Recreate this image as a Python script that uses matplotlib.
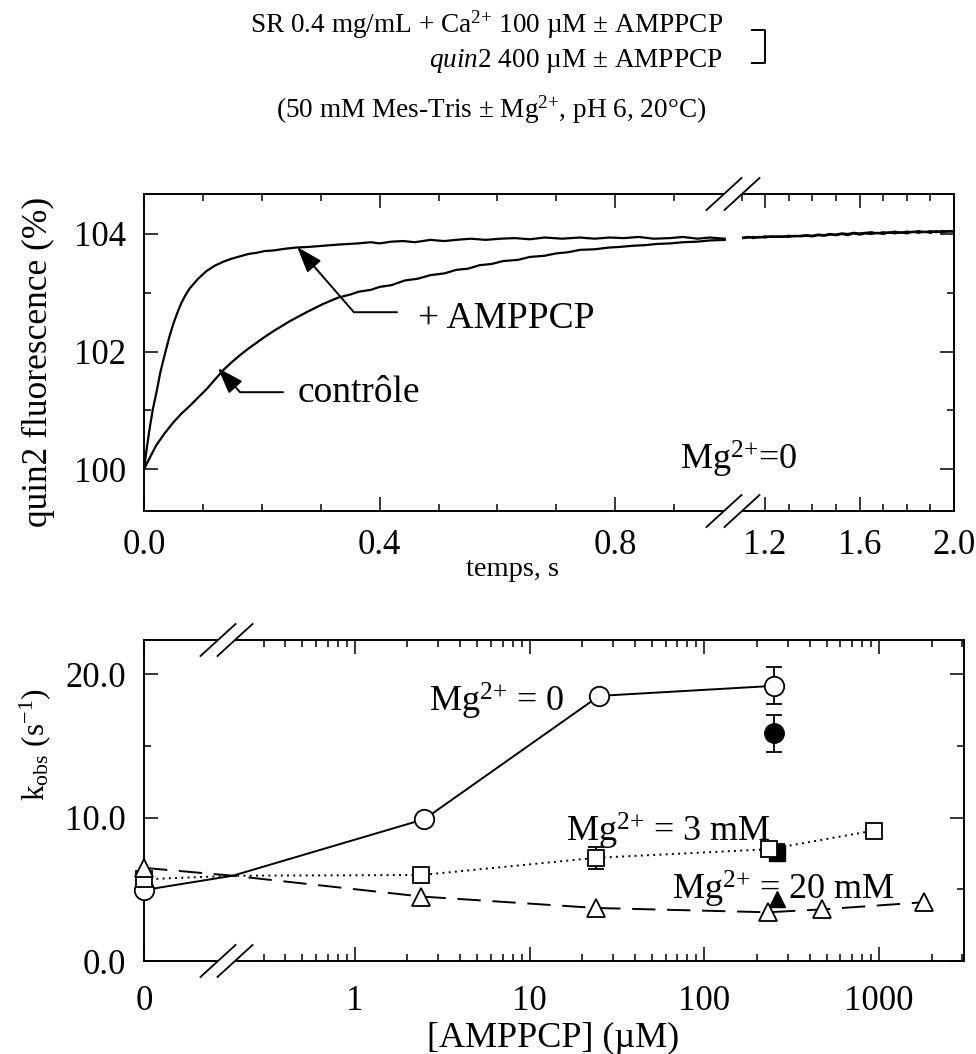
import numpy as np
import matplotlib
matplotlib.use("Agg")
import matplotlib.pyplot as plt
from matplotlib.ticker import FixedLocator, MultipleLocator, FuncFormatter
from matplotlib.lines import Line2D
from matplotlib.patches import Polygon

# --- top panel: quin2 fluorescence traces ---
amp_t = [0, 0.005, 0.010, 0.015, 0.021, 0.028, 0.036, 0.043, 0.050, 0.057,
         0.064, 0.071, 0.078, 0.092, 0.106, 0.120, 0.135, 0.149, 0.163, 0.177,
         0.191, 0.205, 0.220, 0.240, 0.259, 0.280, 0.304, 0.330, 0.363, 0.385,
         0.400, 0.420, 0.440, 0.460, 0.486, 0.510, 0.530, 0.555, 0.580, 0.605,
         0.630, 0.655, 0.680, 0.710, 0.740, 0.765, 0.790, 0.815, 0.840, 0.865,
         0.893, 0.915, 0.940, 0.960, 0.986]
amp_v = [100.00, 100.38, 100.72, 101.02, 101.30, 101.66, 101.98, 102.25, 102.48, 102.67,
         102.84, 102.97, 103.08, 103.24, 103.37, 103.46, 103.53, 103.58, 103.62, 103.66,
         103.68, 103.71, 103.72, 103.75, 103.77, 103.78, 103.80, 103.82, 103.84, 103.86,
         103.84, 103.87, 103.88, 103.86, 103.90, 103.88, 103.90, 103.92, 103.90, 103.92,
         103.93, 103.91, 103.94, 103.92, 103.94, 103.92, 103.94, 103.93, 103.95, 103.92,
         103.93, 103.95, 103.92, 103.94, 103.92]

ctl_t = [0, 0.005, 0.010, 0.021, 0.035, 0.050, 0.064, 0.078, 0.092, 0.106,
         0.120, 0.135, 0.149, 0.163, 0.177, 0.191, 0.205, 0.220, 0.248, 0.276,
         0.304, 0.330, 0.350, 0.365, 0.385, 0.400, 0.420, 0.443, 0.465, 0.486,
         0.510, 0.530, 0.550, 0.570, 0.590, 0.610, 0.635, 0.655, 0.680, 0.700,
         0.720, 0.740, 0.765, 0.790, 0.808, 0.830, 0.850, 0.870, 0.893, 0.915,
         0.940, 0.960, 0.986]
ctl_v = [100.00, 100.10, 100.20, 100.41, 100.61, 100.80, 100.95, 101.08, 101.22, 101.36,
         101.52, 101.69, 101.82, 101.94, 102.05, 102.15, 102.25, 102.35, 102.52, 102.67,
         102.81, 102.92, 102.97, 103.02, 103.05, 103.10, 103.13, 103.21, 103.24, 103.30,
         103.33, 103.39, 103.41, 103.47, 103.49, 103.54, 103.56, 103.61, 103.63, 103.67,
         103.69, 103.73, 103.74, 103.77, 103.78, 103.80, 103.81, 103.83, 103.84, 103.86,
         103.87, 103.89, 103.90]

late_t = [1.107, 1.130, 1.150, 1.175, 1.200, 1.225, 1.250, 1.275, 1.300, 1.325,
          1.350, 1.375, 1.400, 1.425, 1.450, 1.475, 1.500, 1.525, 1.550, 1.575,
          1.600, 1.625, 1.650, 1.675, 1.700, 1.725, 1.750, 1.775, 1.800, 1.825,
          1.850, 1.875, 1.900, 1.925, 1.950, 1.975, 2.000]
late_amp = [103.94, 103.95, 103.93, 103.95, 103.94, 103.96, 103.95, 103.96, 103.95, 103.97,
            103.96, 103.97, 103.96, 103.98, 103.97, 103.99, 103.98, 104.00, 103.98, 104.01,
            103.99, 104.01, 104.00, 104.02, 104.00, 104.03, 104.01, 104.03, 104.01, 104.04,
            104.02, 104.04, 104.02, 104.05, 104.03, 104.05, 104.04]
late_ctl = [103.93, 103.94, 103.95, 103.94, 103.96, 103.95, 103.96, 103.95, 103.97, 103.96,
            103.97, 103.98, 103.97, 103.99, 103.98, 104.00, 103.99, 104.01, 104.00, 104.02,
            104.01, 104.02, 104.03, 104.01, 104.03, 104.02, 104.04, 104.02, 104.04, 104.03,
            104.05, 104.03, 104.05, 104.03, 104.05, 104.04, 104.05]

# --- bottom panel: k_obs vs [AMPPCP] (0.2 = junction point at the axis break) ---
mg0_x = [0, 0.2, 2.5, 25, 250]
mg0_y = [4.95, 5.95, 9.9, 18.5, 19.2]
mg0_err = 1.3
mg0_fill_x, mg0_fill_y, mg0_fill_err = 250, 15.9, 1.3

mg3_x = [0, 0.2, 2.4, 24, 235, 930]
mg3_y = [5.7, 5.95, 6.0, 7.2, 7.8, 9.1]
mg3_err_x, mg3_err = 24, 0.75
mg3_fill_x, mg3_fill_y, mg3_fill_err = 260, 7.55, 0.6

mg20_x = [0, 0.2, 2.4, 24, 230, 470, 1800]
mg20_y = [6.5, 5.95, 4.5, 3.7, 3.4, 3.6, 4.1]
mg20_fill_x, mg20_fill_y = 260, 4.3

W, H = 976, 1054
FS = 25
SUP = "$^{2{+}}$"

plt.rcParams["font.family"] = ["Liberation Serif", "DejaVu Serif"]
plt.rcParams["mathtext.fontset"] = "custom"
plt.rcParams["mathtext.rm"] = "Liberation Serif"
plt.rcParams["mathtext.it"] = "Liberation Serif:italic"
plt.rcParams["axes.linewidth"] = 1.4


def fx(x):
    return x / W


def fy(y):
    return 1 - y / H


def style_ticks(ax, **kw):
    ax.tick_params(which="both", direction="in", width=1.1, labelsize=FS, **kw)
    ax.tick_params(which="major", length=10)
    ax.tick_params(which="minor", length=5)


def slash_pair(fig, centers, y, dx=17.5, dy=16):
    """Draw '//' break marks centred on a spine (pixel coords)."""
    (c1, c2) = centers
    poly = [(fx(c1 - dx), fy(y + dy)), (fx(c2 - dx), fy(y + dy)),
            (fx(c2 + dx), fy(y - dy)), (fx(c1 + dx), fy(y - dy))]
    fig.add_artist(Polygon(poly, closed=True, facecolor="white",
                           edgecolor="none", zorder=5))
    for c in centers:
        fig.add_artist(Line2D([fx(c - dx), fx(c + dx)], [fy(y + dy), fy(y - dy)],
                              color="black", lw=1.3, zorder=6))


fig = plt.figure(figsize=(W / 100, H / 100), dpi=100)

# ---------------- top panel ----------------
ax1 = fig.add_axes([fx(144), fy(511), (733 - 144) / W, (511 - 194) / H])
ax2 = fig.add_axes([fx(733), fy(511), (954 - 733) / W, (511 - 194) / H], sharey=ax1)

ax1.plot(amp_t, amp_v, color="black", lw=1.6)
ax1.plot(ctl_t, ctl_v, color="black", lw=1.6)
ax2.plot(late_t, late_amp, color="black", lw=1.6)
ax2.plot(late_t, late_ctl, color="black", lw=1.6)

ax1.set_xlim(0, 1.0)
ax2.set_xlim(1.064, 2.0)
ax1.set_ylim(99.29, 104.68)

ax1.spines["right"].set_visible(False)
ax2.spines["left"].set_visible(False)

ax1.xaxis.set_major_locator(FixedLocator([0.0, 0.4, 0.8]))
ax1.xaxis.set_minor_locator(MultipleLocator(0.1))
ax2.xaxis.set_major_locator(FixedLocator([1.2, 1.6, 2.0]))
ax2.xaxis.set_minor_locator(MultipleLocator(0.1))
ax1.yaxis.set_major_locator(MultipleLocator(2))
ax1.yaxis.set_minor_locator(MultipleLocator(1))
for a in (ax1, ax2):
    a.xaxis.set_major_formatter(FuncFormatter(lambda v, p: f"{v:.1f}"))

style_ticks(ax1, top=True, right=False, pad=13)
style_ticks(ax2, top=True, left=False, right=True, labelleft=False, pad=13)

arrow_kw = dict(arrowstyle="-|>,head_length=0.8,head_width=0.28", color="black",
                lw=1.4, shrinkA=0, shrinkB=0, mutation_scale=20)
ax1.annotate("", xy=(0.260, 103.78), xytext=(0.4295, 102.67),
             arrowprops=dict(connectionstyle="angle,angleA=0,angleB=131,rad=0", **arrow_kw))
ax1.text(0.465, 102.395, "+ AMPPCP", fontsize=27, ha="left", va="baseline")
ax1.annotate("", xy=(0.1256, 101.72), xytext=(0.236, 101.31),
             arrowprops=dict(connectionstyle="angle,angleA=0,angleB=132.5,rad=0", **arrow_kw))
ax1.text(0.2615, 101.146, "contrôle", fontsize=27, ha="left", va="baseline")

fig.text(fx(680), fy(470), "Mg" + SUP + "=0", fontsize=26, ha="left", va="baseline")
fig.text(fx(513), fy(570), "temps, s", fontsize=20.5, ha="center", va="center")
fig.text(fx(38), fy(362), "quin2 fluorescence (%)", fontsize=25.5, rotation=90,
         ha="center", va="center")

slash_pair(fig, (724, 742), 194)
slash_pair(fig, (724, 742), 511)

# ---------------- bottom panel ----------------
XB, ZW = 0.185, 0.474
LB = np.log10(XB)


def fwd(x):
    x = np.asarray(x, dtype=float)
    lg = np.log10(np.where(x > XB, x, XB))
    return np.where(x >= XB, lg, LB - (XB - x) / XB * ZW)


def inv(u):
    u = np.asarray(u, dtype=float)
    return np.where(u >= LB, 10 ** np.minimum(u, 10), XB - (LB - u) / ZW * XB)


ax3 = fig.add_axes([fx(144), fy(961), (964 - 144) / W, (961 - 640) / H])
ax3.set_xscale("function", functions=(fwd, inv))
ax3.set_xlim(0, 3060)
ax3.set_ylim(0, 22.4)

mk = dict(markerfacecolor="white", markeredgecolor="black", markeredgewidth=1.3,
          color="black", clip_on=False, zorder=4)
eb = dict(fmt="none", ecolor="black", elinewidth=1.3, capsize=6, capthick=1.3, zorder=3)

# filled symbols first, open ones on top
ax3.errorbar([mg0_fill_x], [mg0_fill_y], yerr=[mg0_fill_err], **eb)
ax3.plot([mg0_fill_x], [mg0_fill_y], "o", color="black", ms=14, zorder=3)
ax3.errorbar([mg3_fill_x], [mg3_fill_y], yerr=[mg3_fill_err], **eb)
ax3.plot([mg3_fill_x], [mg3_fill_y], "s", color="black", ms=12, zorder=3)
ax3.plot([mg20_fill_x], [mg20_fill_y], "^", color="black", ms=12, zorder=3)

ax3.errorbar([mg0_x[-1]], [mg0_y[-1]], yerr=[mg0_err], **eb)
ax3.errorbar([mg3_err_x], [mg3_y[3]], yerr=[mg3_err], **eb)

ax3.plot(mg0_x, mg0_y, marker="o", ms=14, lw=1.4, markevery=[0, 2, 3, 4], **mk)
ax3.plot(mg3_x, mg3_y, marker="s", ms=12, lw=1.4, ls=(0, (1, 2.2)),
         markevery=[0, 2, 3, 4, 5], **mk)
ax3.plot(mg20_x, mg20_y, marker="^", ms=13, lw=1.4, ls=(0, (12, 6)),
         markevery=[0, 2, 3, 4, 5, 6], **mk)

ax3.xaxis.set_major_locator(FixedLocator([0, 1, 10, 100, 1000]))
ax3.xaxis.set_major_formatter(FuncFormatter(lambda v, p: f"{v:g}"))
minors = [m * 10.0 ** e for e in (-1, 0, 1, 2) for m in range(2, 10)
          if m * 10.0 ** e >= 0.3] + [2000, 3000]
ax3.xaxis.set_minor_locator(FixedLocator(minors))
ax3.yaxis.set_major_locator(MultipleLocator(10))
ax3.yaxis.set_minor_locator(MultipleLocator(5))
ax3.yaxis.set_major_formatter(FuncFormatter(lambda v, p: f"{v:.1f}"))
style_ticks(ax3, top=True, right=True)
ax3.tick_params(axis="x", pad=17)
ax3.tick_params(axis="y", pad=13)

ax3.text(2.65, 17.37, "Mg" + SUP + " = 0", fontsize=26, ha="left", va="baseline")
ax3.text(16.1, 8.34, "Mg" + SUP + " = 3 mM", fontsize=26, ha="left", va="baseline")
ax3.text(65.6, 4.27, "Mg" + SUP + " = 20 mM", fontsize=26, ha="left", va="baseline")

fig.text(fx(553), fy(1038), "[AMPPCP] (µM)", fontsize=26, ha="center", va="center")
fig.text(fx(35), fy(745), r"k$_{\rm obs}$ (s$^{-1}$)", fontsize=22.5, rotation=90,
         ha="center", va="center")

slash_pair(fig, (218, 235), 640)
slash_pair(fig, (218, 235), 961)

# ---------------- header ----------------
fig.text(fx(723), fy(33), "SR 0.4 mg/mL + Ca" + SUP + " 100 µM ± AMPPCP",
         fontsize=19.6, ha="right", va="baseline")
fig.text(fx(723), fy(67), r"$\it{quin2}$ 400 µM ± AMPPCP",
         fontsize=19.6, ha="right", va="baseline")
fig.text(fx(491), fy(118), "(50 mM Mes-Tris ± Mg" + SUP + ", pH 6, 20°C)",
         fontsize=19.6, ha="center", va="baseline")
fig.add_artist(Line2D([fx(752), fx(765), fx(765), fx(752)],
                      [fy(30), fy(30), fy(63), fy(63)], color="black", lw=1.4))

fig.savefig("out.png", dpi=100)
